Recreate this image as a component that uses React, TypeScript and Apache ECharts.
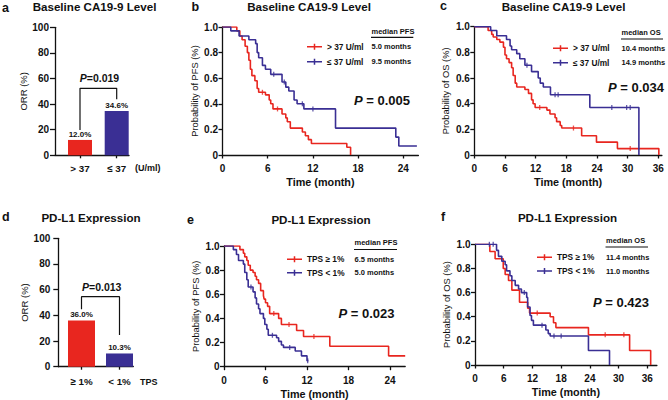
import React, { useEffect, useRef } from 'react';
import * as echarts from 'echarts';

const FONT = '"Liberation Sans", Arial, Helvetica, sans-serif';
const RED = '#E8261F';
const BLUE = '#3A2F94';
const INK = '#111111';

// ---------- ORR bar panels (a, d) ----------
const caCategories = ['> 37', '≤ 37'];
const caORR = [12.0, 34.6];
const caBracket = [19.8, 52.3, 43.8]; // left foot, bridge, right foot
const caPValue = '0.019';

const tpsCategories = ['≥ 1%', '< 1%'];
const tpsORR = [36.0, 10.3];
const tpsBracket = [44.7, 54.5, 24.7];
const tpsPValue = '0.013';

const orrTicks = [0, 20, 40, 60, 80, 100];

// ---------- KM panels ----------
const timeTicksPFS = [0, 6, 12, 18, 24];
const timeTicksOS = [0, 6, 12, 18, 24, 30, 36];

const caLegend = ['> 37 U/ml', '≤ 37 U/ml'];
const tpsLegend = ['TPS ≥ 1%', 'TPS < 1%'];

const pfsCaMedians = ['5.0 months', '9.5 months'];
const osCaMedians = ['10.4 months', '14.9 months'];
const pfsTpsMedians = ['6.5 months', '5.0 months'];
const osTpsMedians = ['11.4 months', '11.0 months'];

const pValuesKM = { b: '0.005', c: '0.034', e: '0.023', f: '0.423' };

// b: PFS by CA19-9
const bHighT = [0, 1.9, 2.3, 2.6, 3.0, 3.3, 3.5, 3.7, 3.9, 4.3, 4.6, 4.8, 5.7, 6.2, 6.4, 6.7, 7.9, 8.4, 8.6, 9.0, 10.6, 11.0, 11.4, 11.8, 16.5, 17.0];
const bHighS = [1.0, 0.97, 0.93, 0.90, 0.85, 0.80, 0.74, 0.67, 0.62, 0.58, 0.52, 0.49, 0.47, 0.43, 0.40, 0.36, 0.32, 0.29, 0.26, 0.21, 0.18, 0.15, 0.12, 0.09, 0.06, 0.0];
const bHighCensT = [5.3, 7.3];
const bHighCensS = [0.49, 0.36];
const bLowT = [0, 1.1, 2.2, 3.5, 4.4, 4.6, 4.8, 5.3, 5.7, 6.4, 7.9, 8.4, 8.8, 9.5, 9.9, 10.8, 15.0, 23.0, 23.4, 25.8];
const bLowS = [1.0, 0.97, 0.93, 0.90, 0.87, 0.80, 0.76, 0.70, 0.67, 0.63, 0.57, 0.53, 0.50, 0.43, 0.40, 0.36, 0.21, 0.14, 0.07, 0.07];
const bLowCensT = [6.8, 8.2, 10.6, 12.0];
const bLowCensS = [0.63, 0.57, 0.40, 0.36];

// c: OS by CA19-9
const cHighT = [0, 2.7, 3.4, 3.7, 4.4, 5.0, 5.7, 6.0, 6.3, 6.8, 7.3, 7.6, 8.0, 8.3, 9.9, 10.6, 11.2, 11.5, 11.9, 14.2, 14.8, 15.8, 16.1, 16.8, 17.1, 21.0, 23.9, 28.0, 36.1];
const cHighS = [1.0, 0.97, 0.94, 0.92, 0.90, 0.88, 0.84, 0.78, 0.75, 0.72, 0.68, 0.62, 0.56, 0.53, 0.51, 0.48, 0.43, 0.40, 0.37, 0.35, 0.32, 0.29, 0.26, 0.23, 0.21, 0.15, 0.10, 0.05, 0.0];
const cHighCensT = [12.8, 19.4, 30.5];
const cHighCensS = [0.37, 0.21, 0.05];
const cLowT = [0, 3.2, 4.4, 6.3, 7.0, 7.3, 8.3, 8.9, 9.9, 11.2, 12.5, 12.9, 13.5, 14.9, 22.6, 32.2];
const cLowS = [1.0, 0.97, 0.93, 0.90, 0.85, 0.82, 0.79, 0.75, 0.70, 0.65, 0.60, 0.56, 0.53, 0.47, 0.37, 0.0];
const cLowCensT = [10.3, 15.8, 16.4, 26.9, 29.8, 30.5];
const cLowCensS = [0.70, 0.47, 0.47, 0.37, 0.37, 0.37];

// e: PFS by PD-L1
const eHighT = [0, 2.3, 2.8, 3.0, 3.3, 3.5, 3.8, 4.2, 4.5, 4.7, 5.0, 5.3, 5.7, 5.8, 6.0, 6.3, 6.6, 7.9, 8.3, 10.5, 11.5, 15.3, 23.8, 26.2];
const eHighS = [1.0, 0.97, 0.94, 0.91, 0.88, 0.84, 0.80, 0.78, 0.75, 0.72, 0.69, 0.63, 0.59, 0.56, 0.53, 0.50, 0.44, 0.40, 0.35, 0.30, 0.25, 0.17, 0.09, 0.09];
const eHighCensT = [7.2, 9.4, 13.0];
const eHighCensS = [0.44, 0.35, 0.25];
const eLowT = [0, 1.35, 1.8, 2.1, 2.8, 3.0, 3.3, 3.5, 4.2, 4.5, 4.7, 5.0, 5.2, 5.7, 5.9, 6.2, 6.4, 7.6, 7.9, 8.3, 8.6, 10.3, 11.2, 12.0, 12.2];
const eLowS = [1.0, 0.97, 0.93, 0.88, 0.85, 0.78, 0.72, 0.66, 0.62, 0.57, 0.52, 0.48, 0.44, 0.40, 0.35, 0.31, 0.26, 0.24, 0.21, 0.18, 0.16, 0.13, 0.09, 0.05, 0.05];
const eLowCensT = [3.9, 7.0, 9.5, 12.1];
const eLowCensS = [0.66, 0.26, 0.16, 0.05];

// f: OS by PD-L1
const fHighT = [0, 3.1, 4.2, 5.9, 6.3, 7.0, 7.7, 9.3, 11.0, 11.4, 15.7, 16.4, 16.9, 23.7, 32.3, 36.7];
const fHighS = [1.0, 0.94, 0.88, 0.80, 0.75, 0.70, 0.62, 0.52, 0.47, 0.43, 0.40, 0.35, 0.31, 0.25, 0.12, 0.0];
const fHighCensT = [13.0, 27.2, 31.1];
const fHighCensS = [0.43, 0.25, 0.25];
const fLowT = [0, 4.5, 4.9, 5.6, 6.3, 6.6, 7.3, 7.7, 8.4, 9.1, 9.7, 10.8, 11.0, 11.5, 11.8, 12.2, 14.8, 15.3, 15.7, 23.7, 28.1];
const fLowS = [1.0, 0.95, 0.90, 0.86, 0.83, 0.78, 0.74, 0.70, 0.66, 0.63, 0.60, 0.56, 0.48, 0.41, 0.37, 0.33, 0.29, 0.26, 0.24, 0.12, 0.0];
const fLowCensT = [3.0, 3.8, 10.3, 14.0, 16.5, 18.0];
const fLowCensS = [1.0, 1.0, 0.60, 0.33, 0.24, 0.24];

const zip = (a: number[], b: number[]) => a.map((v, i) => [v, b[i]]);

const axisLine = { show: true, onZero: false, lineStyle: { color: INK, width: 1.3 } };
const tickLine = { color: INK, width: 1.3 };
const labelFont = { fontFamily: FONT, fontWeight: 'bold' as const, fontSize: 10, color: INK };

const LEG_ICON = 'path://M0,4L20,4L20,6L0,6Z M9,1L11,1L11,9L9,9Z';

export default function App() {
  const ref = useRef<HTMLDivElement>(null);
  useEffect(() => {
    if (!ref.current) return;
    const chart = echarts.init(ref.current, undefined, { renderer: 'svg' });

    const grids = [
      { left: 55, top: 27.3, width: 74, height: 128 },        // 0 a axes
      { left: 61.65, top: 27.3, width: 73.4, height: 128 },   // 1 a bars
      { left: 222.5, top: 27, width: 195.9, height: 128 },    // 2 b
      { left: 474.3, top: 26.7, width: 187.6, height: 128.3 },// 3 c
      { left: 58.3, top: 238.3, width: 75, height: 128.4 },   // 4 d axes
      { left: 62.5, top: 238.3, width: 76, height: 128.4 },   // 5 d bars
      { left: 224, top: 246, width: 181.2, height: 120.7 },   // 6 e
      { left: 475, top: 244.3, width: 181.9, height: 120.7 }, // 7 f
    ].map((g) => ({ ...g, containLabel: false, outerBoundsMode: 'none', show: false }));

    const orrAxisX = (gridIndex: number) => ({
      type: 'value', gridIndex, min: 0, max: 1,
      axisLine, axisTick: { show: false }, axisLabel: { show: false }, splitLine: { show: false },
    });
    const orrAxisY = (gridIndex: number, margin: number) => ({
      type: 'value', gridIndex, min: 0, max: 100, interval: 20,
      axisLine, axisTick: { show: true, length: 5, lineStyle: tickLine, customValues: orrTicks },
      axisLabel: { ...labelFont, margin, customValues: orrTicks },
      splitLine: { show: false },
      name: 'ORR (%)', nameLocation: 'middle', nameGap: 23.5,
      nameTextStyle: { fontFamily: FONT, fontSize: 9.5, color: INK },
    });
    const catAxisX = (gridIndex: number, data: string[], margin: number) => ({
      type: 'category', gridIndex, data,
      axisLine: { show: false },
      axisTick: { show: true, alignWithLabel: true, length: 3, lineStyle: tickLine },
      axisLabel: { ...labelFont, fontSize: 9.8, margin },
    });
    const hiddenY = (gridIndex: number) => ({ type: 'value', gridIndex, min: 0, max: 100, show: false, splitLine: { show: false } });

    const kmX = (gridIndex: number, max: number, ticks: number[]) => ({
      type: 'value', gridIndex, min: 0, max,
      axisLine,
      axisTick: { show: true, length: 3.5, lineStyle: tickLine, customValues: ticks },
      axisLabel: { ...labelFont, margin: 8.5, customValues: ticks },
      splitLine: { show: false },
      name: 'Time (month)', nameLocation: 'middle', nameGap: 21.5,
      nameTextStyle: { fontFamily: FONT, fontWeight: 'bold', fontSize: 10.8, color: INK },
    });
    const kmY = (gridIndex: number, name: string) => ({
      type: 'value', gridIndex, min: 0, max: 1, interval: 0.2,
      axisLine,
      axisTick: { show: true, length: 4, lineStyle: tickLine },
      axisLabel: { ...labelFont, margin: 4.5, formatter: (v: number) => (v === 0 ? '0' : v.toFixed(1)) },
      splitLine: { show: false },
      name, nameLocation: 'middle', nameGap: 23.5,
      nameTextStyle: { fontFamily: FONT, fontSize: 9.3, color: INK },
    });

    const bars = (axis: number, values: number[], width: number) => ({
      type: 'bar', xAxisIndex: axis, yAxisIndex: axis, barWidth: width, silent: true,
      data: values.map((v, i) => ({ value: v, itemStyle: { color: i === 0 ? RED : BLUE } })),
      label: {
        show: true, position: 'top', distance: 1.5,
        formatter: (p: any) => Number(p.value).toFixed(1) + '%',
        fontFamily: FONT, fontWeight: 'bold', fontSize: 8, color: INK,
      },
    });
    const bracket = (axis: number, b: number[]) => ({
      type: 'line', xAxisIndex: axis, yAxisIndex: axis, silent: true, symbol: 'none', z: 3,
      data: [[0, b[0]], [0, b[1]], [1, b[1]], [1, b[2]]],
      lineStyle: { color: INK, width: 1.2 },
    });
    const km = (axis: number, name: string, t: number[], s: number[], color: string) => ({
      type: 'line', name, xAxisIndex: axis, yAxisIndex: axis, step: 'end', symbol: 'none', silent: true,
      data: zip(t, s), lineStyle: { color, width: 1.6 }, itemStyle: { color }, z: 2,
    });
    const cens = (axis: number, id: string, t: number[], s: number[], color: string) => ({
      type: 'scatter', name: id, xAxisIndex: axis, yAxisIndex: axis, symbol: 'rect', symbolSize: [1.3, 5],
      data: zip(t, s), itemStyle: { color }, silent: true, z: 4,
    });

    const legend = (left: number, top: number, gap: number, data: string[]) => ({
      left, top, orient: 'vertical', padding: 0, itemWidth: 15, itemHeight: 6, itemGap: gap,
      icon: LEG_ICON, selectedMode: false, data,
      itemStyle: { borderWidth: 0 },
      textStyle: { fontFamily: FONT, fontWeight: 'bold', fontSize: 8.3, color: INK, lineHeight: 10 },
    });

    const text = (x: number, y: number, t: string, size: number, weight: string, align = 'left', extra: any = {}) => ({
      type: 'text', x, y, silent: true,
      style: { text: t, fontFamily: FONT, fontSize: size, fontWeight: weight, fill: INK, align, verticalAlign: 'middle', ...extra },
    });
    const pText = (x: number, y: number, v: string, size: number, spaced: boolean, align: string) => ({
      type: 'text', x, y, silent: true,
      style: {
        text: `{i|P}{n|${spaced ? ' = ' : '='}${v}}`, align, verticalAlign: 'middle', fill: INK,
        rich: {
          i: { fontFamily: FONT, fontSize: size, fontWeight: 'bold', fontStyle: 'italic', fill: INK },
          n: { fontFamily: FONT, fontSize: size, fontWeight: 'bold', fill: INK },
        },
      },
    });
    const uline = (x1: number, x2: number, y: number) => ({
      type: 'line', silent: true, shape: { x1, y1: y, x2, y2: y }, style: { stroke: INK, lineWidth: 1.2 },
    });
    const medianBlock = (x: number, yHead: number, yLine: number, xEnd: number, rows: number[], head: string, vals: string[]) => [
      text(x, yHead, head, 7.5, 'bold'),
      uline(x - 0.5, xEnd, yLine),
      text(x, rows[0], vals[0], 7.5, 'bold'),
      text(x, rows[1], vals[1], 7.5, 'bold'),
    ];

    const graphic = [
      text(2, 8, 'a', 12.5, 'bold'),
      text(191.5, 7, 'b', 12.5, 'bold'),
      text(440, 6, 'c', 12.5, 'bold'),
      text(2, 217, 'd', 12.5, 'bold'),
      text(187, 220, 'e', 12.5, 'bold'),
      text(441, 217, 'f', 12.5, 'bold'),
      text(94.5, 6, 'Baseline CA19-9 Level', 11.6, 'bold', 'center'),
      text(309, 6, 'Baseline CA19-9 Level', 11.6, 'bold', 'center'),
      text(563.5, 6, 'Baseline CA19-9 Level', 11.6, 'bold', 'center'),
      text(91, 217, 'PD-L1 Expression', 11.6, 'bold', 'center'),
      text(321, 219, 'PD-L1 Expression', 11.6, 'bold', 'center'),
      text(567.5, 217, 'PD-L1 Expression', 11.6, 'bold', 'center'),
      text(135, 168.3, '(U/ml)', 9, 'bold'),
      text(140, 381.7, 'TPS', 9, 'bold'),
      pText(99.5, 78.3, caPValue, 10.5, false, 'center'),
      pText(101.7, 286.7, tpsPValue, 10.5, false, 'center'),
      pText(410, 100, pValuesKM.b, 13, true, 'right'),
      pText(664, 87.3, pValuesKM.c, 13, true, 'right'),
      pText(394.5, 313.3, pValuesKM.e, 13, true, 'right'),
      pText(649, 302, pValuesKM.f, 13, true, 'right'),
      ...medianBlock(371.5, 31.7, 37.3, 413.3, [46.7, 61.7], 'median PFS', pfsCaMedians),
      ...medianBlock(621.5, 32.7, 39, 663, [48.3, 62.7], 'median OS', osCaMedians),
      ...medianBlock(354.5, 242.7, 249.5, 397, [259.3, 272.7], 'median PFS', pfsTpsMedians),
      ...medianBlock(606, 240.7, 247, 648, [257.3, 271], 'median OS', osTpsMedians),
    ];

    const option: any = {
      animation: false,
      textStyle: { fontFamily: FONT },
      grid: grids,
      xAxis: [
        orrAxisX(0), catAxisX(1, caCategories, 8),
        kmX(2, 26, timeTicksPFS), kmX(3, 36.7, timeTicksOS),
        orrAxisX(4), catAxisX(5, tpsCategories, 10),
        kmX(6, 26.2, timeTicksPFS), kmX(7, 38, timeTicksOS),
      ],
      yAxis: [
        orrAxisY(0, 6), hiddenY(1),
        kmY(2, 'Probability of PFS (%)'), kmY(3, 'Probability of OS (%)'),
        orrAxisY(4, 8), hiddenY(5),
        kmY(6, 'Probability of PFS (%)'), kmY(7, 'Probability of OS (%)'),
      ],
      legend: [
        legend(307, 41.7, 5, caLegend),
        legend(553, 43.3, 4.4, caLegend),
        legend(287, 254.3, 3.4, tpsLegend),
        legend(537, 252.3, 3.7, tpsLegend),
      ],
      series: [
        bars(1, caORR, 24), bracket(1, caBracket),
        bars(5, tpsORR, 27), bracket(5, tpsBracket),
        km(2, caLegend[0], bHighT, bHighS, RED), km(2, caLegend[1], bLowT, bLowS, BLUE),
        cens(2, 'cb1', bHighCensT, bHighCensS, RED), cens(2, 'cb2', bLowCensT, bLowCensS, BLUE),
        km(3, caLegend[0], cHighT, cHighS, RED), km(3, caLegend[1], cLowT, cLowS, BLUE),
        cens(3, 'cc1', cHighCensT, cHighCensS, RED), cens(3, 'cc2', cLowCensT, cLowCensS, BLUE),
        km(6, tpsLegend[0], eHighT, eHighS, RED), km(6, tpsLegend[1], eLowT, eLowS, BLUE),
        cens(6, 'ce1', eHighCensT, eHighCensS, RED), cens(6, 'ce2', eLowCensT, eLowCensS, BLUE),
        km(7, tpsLegend[0], fHighT, fHighS, RED), km(7, tpsLegend[1], fLowT, fLowS, BLUE),
        cens(7, 'cf1', fHighCensT, fHighCensS, RED), cens(7, 'cf2', fLowCensT, fLowCensS, BLUE),
      ],
      graphic,
    };
    chart.setOption(option);
    return () => chart.dispose();
  }, []);
  return <div ref={ref} style={{ position: 'fixed', left: 0, top: 0, width: 668, height: 400, background: '#fff' }} />;
}
